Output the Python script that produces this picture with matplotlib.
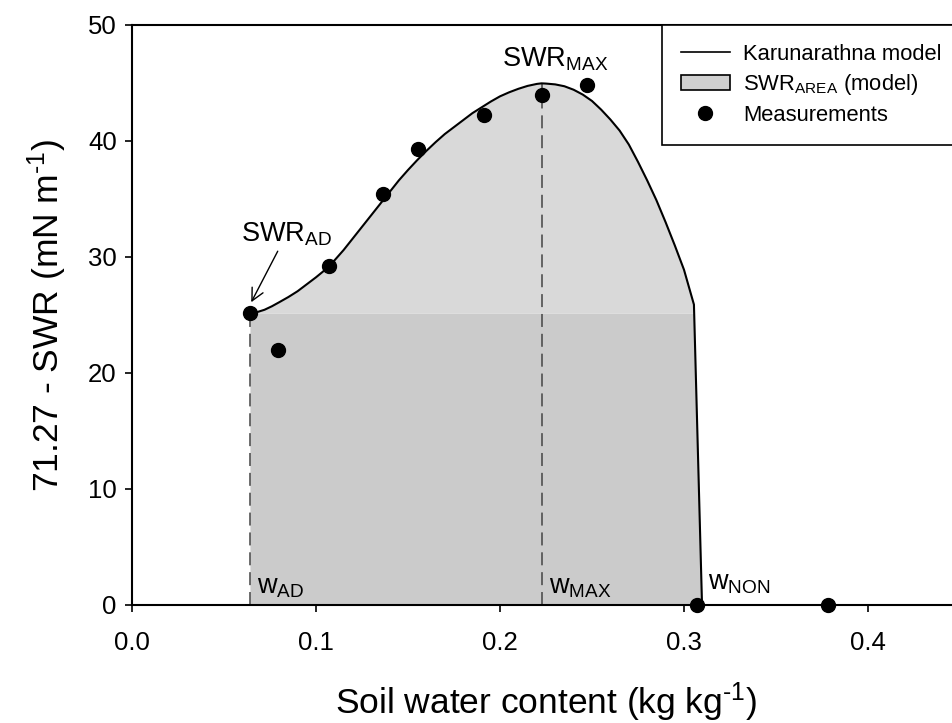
import matplotlib
matplotlib.use("Agg")
import matplotlib.pyplot as plt
import numpy as np

plt.rcParams["font.family"] = ["Liberation Sans", "DejaVu Sans"]
plt.rcParams["mathtext.fontset"] = "custom"
plt.rcParams["mathtext.rm"] = "Liberation Sans"
plt.rcParams["mathtext.it"] = "Liberation Sans"
plt.rcParams["mathtext.default"] = "regular"

# Karunarathna model curve (soil water content vs 71.27 - SWR)
model_w = [0.0641, 0.068, 0.072, 0.076, 0.080, 0.085, 0.090, 0.095, 0.100, 0.105,
           0.110, 0.115, 0.120, 0.125, 0.130, 0.135, 0.140, 0.145, 0.150, 0.155,
           0.160, 0.165, 0.170, 0.175, 0.180, 0.185, 0.190, 0.195, 0.200, 0.205,
           0.210, 0.215, 0.220, 0.2226, 0.225, 0.230, 0.235, 0.240, 0.245, 0.250,
           0.255, 0.260, 0.265, 0.270, 0.275, 0.280, 0.285, 0.290, 0.295, 0.300,
           0.3054, 0.3098]
model_swr = [25.15, 25.25, 25.45, 25.75, 26.1, 26.55, 27.05, 27.65, 28.25, 28.9,
             29.7, 30.6, 31.6, 32.6, 33.6, 34.6, 35.6, 36.6, 37.5, 38.35,
             39.15, 39.9, 40.6, 41.2, 41.8, 42.4, 42.9, 43.4, 43.85, 44.2,
             44.5, 44.75, 44.92, 44.97, 44.95, 44.88, 44.72, 44.42, 44.0, 43.45,
             42.7, 41.85, 40.9, 39.7, 38.2, 36.6, 34.9, 33.0, 31.0, 28.9,
             25.9, 0.0]

# measured points
meas_w = [0.0641, 0.0795, 0.1072, 0.1366, 0.1556, 0.1911, 0.2226, 0.2475, 0.3069, 0.3784]
meas_swr = [25.15, 22.0, 29.2, 35.4, 39.3, 42.2, 43.97, 44.8, 0.0, 0.0]

# characteristic points
w_ad, swr_ad = 0.0641, 25.15
w_max, swr_max = 0.2226, 44.97

fig = plt.figure(figsize=(9.52, 7.23), dpi=100)
ax = fig.add_axes([132 / 952, 1 - 605 / 723, (960 - 132) / 952, (605 - 25) / 723])

mw = np.array(model_w)
ms = np.array(model_swr)
lower = np.minimum(ms, swr_ad)
ax.fill_between(mw, 0, lower, color="#cbcbcb", lw=0, zorder=1)
ax.fill_between(mw, swr_ad, ms, where=ms >= swr_ad, interpolate=True,
                color="#d9d9d9", lw=0, zorder=1)
ax.plot(model_w, model_swr, color="black", lw=1.5, zorder=3, solid_joinstyle="round")

# vertical guides at w_AD and w_MAX
dash = (0, (8.5, 4.5))
ax.plot([w_ad, w_ad], [0, swr_ad], ls=dash, color="#444444", lw=1.1, zorder=2)
ax.plot([w_max, w_max], [0, swr_max], ls=dash, color="#444444", lw=1.1, zorder=2)

ax.plot(meas_w, meas_swr, "o", color="black", ms=10, zorder=4, clip_on=False)

# legend handles
area_patch = plt.Rectangle((0, 0), 1, 1, facecolor="#d0d0d0", edgecolor="black", lw=1.2)
line_h, = ax.plot([], [], color="black", lw=1.2)
dot_h, = ax.plot([], [], "o", color="black", ms=10)
leg = ax.legend([line_h, area_patch, dot_h],
                ["Karunarathna model", r"SWR$_{AREA}$ (model)", "Measurements"],
                loc="upper left", bbox_to_anchor=(0.64, 1.0), fontsize=15.8,
                frameon=True, fancybox=False, edgecolor="black", framealpha=1,
                borderpad=0.85, labelspacing=0.35, handlelength=2.25, handletextpad=0.6,
                borderaxespad=0)
leg.get_frame().set_linewidth(1.2)

# annotations
ax.text(0.0595, 31.3, r"SWR$_{AD}$", fontsize=19.5, ha="left", va="baseline")
ax.annotate("", xy=(0.0648, 26.1), xytext=(0.0792, 30.5),
            arrowprops=dict(arrowstyle="->", color="black", lw=1.0,
                            mutation_scale=22, shrinkA=0, shrinkB=0))
ax.text(0.2009, 46.4, r"SWR$_{MAX}$", fontsize=19.5, ha="left", va="baseline")
ax.text(0.0678, 1.0, r"w$_{AD}$", fontsize=19.5, ha="left", va="baseline")
ax.text(0.2268, 1.0, r"w$_{MAX}$", fontsize=19.5, ha="left", va="baseline")
ax.text(0.3129, 1.3, r"w$_{NON}$", fontsize=19.5, ha="left", va="baseline")

ax.set_xlim(0, 0.45)
ax.set_ylim(0, 50)
ax.set_xticks([0.0, 0.1, 0.2, 0.3, 0.4])
ax.set_xticklabels(["0.0", "0.1", "0.2", "0.3", "0.4"])
ax.set_yticks([0, 10, 20, 30, 40, 50])
ax.tick_params(direction="out", length=5, width=1.2, labelsize=18.5)
ax.tick_params(axis="x", pad=14)
ax.tick_params(axis="y", pad=6)

for side in ["left", "bottom", "top"]:
    ax.spines[side].set_linewidth(1.5)
ax.spines["right"].set_visible(False)

ax.set_xlabel(r"Soil water content (kg kg$^{\text{-}1}$)", fontsize=25.5, labelpad=18)
ax.set_ylabel(r"71.27 - SWR (mN m$^{\text{-}1}$)", fontsize=25.5, labelpad=14)

plt.savefig("out.png", dpi=100)
plt.close()
